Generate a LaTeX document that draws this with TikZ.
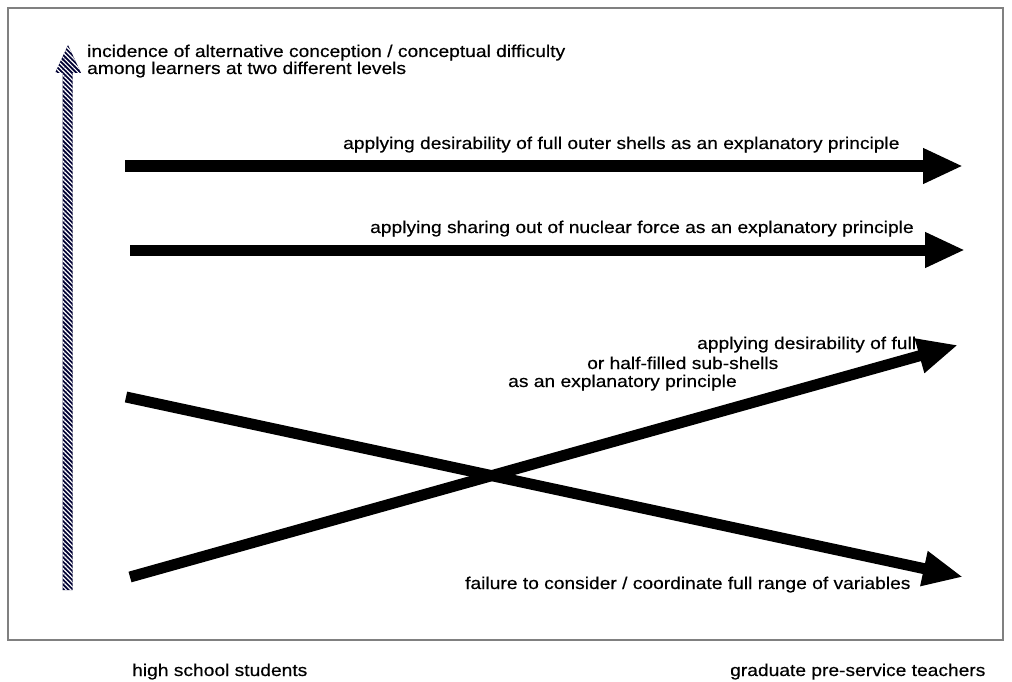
\documentclass[tikz,border=0pt]{standalone}
\usepackage{fontspec}
\setmainfont{Liberation Sans}[FakeStretch=1.13,FakeBold=0.4]
\usepackage{tikz}
\usetikzlibrary{arrows.meta,patterns.meta}

\begin{document}
\begin{tikzpicture}[x=1pt,y=-1pt,
    bigarrow/.style={line width=11pt,-{Triangle[length=40pt,width=33pt]}},
    lbl/.style={inner sep=0pt,anchor=base west,font=\fontsize{17}{15}\selectfont}]
    \useasboundingbox (0,0) rectangle (1012,682);
    % Frame
    \draw[gray,line width=1.5pt] (8,8) rectangle (1003,640);

    % Ends of the arrows
    \coordinate (upS) at (67.5,590);
    \coordinate (upT) at (68,45);
    \coordinate (shellsS) at (125,166);
    \coordinate (shellsE) at (963,166);
    \coordinate (forceS) at (130,250);
    \coordinate (forceE) at (965,250);
    \coordinate (subS) at (130,577);
    \coordinate (subE) at (958,345);
    \coordinate (failS) at (126,397);
    \coordinate (failE) at (963,577);

    % Vertical axis (hatched)
    \fill[preaction={fill=blue!20!black},
        pattern={Lines[angle=-45,distance=3.2pt,line width=1.2pt]},pattern color=white]
        ([xshift=-5pt]upS) -- ([xshift=-5pt]upS |- 0,73) -- ([xshift=-13pt]upT |- 0,73)
        -- (upT) -- ([xshift=13pt]upT |- 0,73) -- ([xshift=5pt]upS |- 0,73)
        -- ([xshift=5pt]upS) -- cycle;

    % Arrows
    \draw[bigarrow] (shellsS) -- (shellsE);
    \draw[bigarrow] (forceS) -- (forceE);
    \draw[bigarrow] (subS) -- (subE);
    \draw[bigarrow] (failS) -- (failE);

    % Labels
    \node[lbl] (inc1) at (87,57) {incidence of alternative conception / conceptual difficulty};
    \node[lbl] (inc2) at (87,74) {among learners at two different levels};
    \node[lbl] (shells) at (343,149) {applying desirability of full outer shells as an explanatory principle};
    \node[lbl] (force) at (370,233) {applying sharing out of nuclear force as an explanatory principle};
    \node[lbl] (sub1) at (697,349) {applying desirability of full};
    \node[lbl] (sub2) at (587,369) {or half-filled sub-shells};
    \node[lbl] (sub3) at (508,387) {as an explanatory principle};
    \node[lbl] (fail) at (465,589) {failure to consider / coordinate full range of variables};
    \node[lbl] (hs) at (132,676) {high school students};
    \node[lbl] (grad) at (730,676) {graduate pre-service teachers};
\end{tikzpicture}
\end{document}
